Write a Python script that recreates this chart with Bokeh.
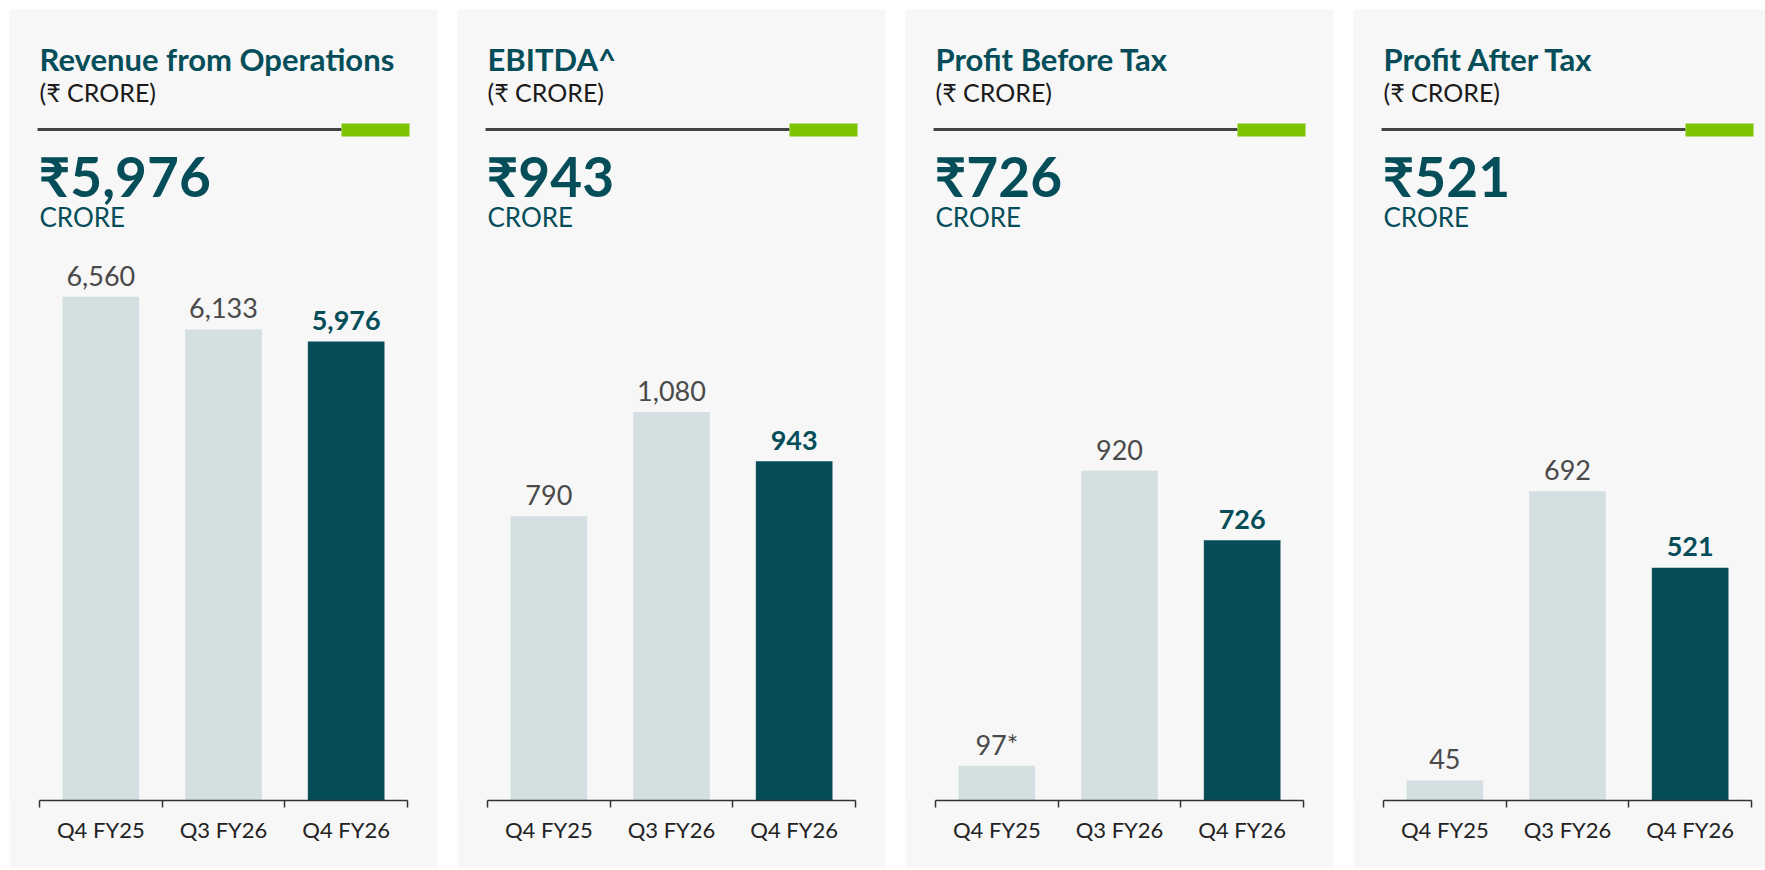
from bokeh.plotting import figure
from bokeh.layouts import row
from bokeh.models import Range1d, FixedTicker, Label
from bokeh.core.properties import value
from bokeh.embed import file_html
from bokeh.resources import INLINE

# ---------------- data ----------------
categories = ["Q4 FY25", "Q3 FY26", "Q4 FY26"]
titles = ["Revenue from Operations", "EBITDA^", "Profit Before Tax", "Profit After Tax"]
unit_label = "(₹ CRORE)"
unit_word = "CRORE"
revenue = [6560, 6133, 5976]
ebitda = [790, 1080, 943]
pbt = [97, 920, 726]
pat = [45, 692, 521]
label_marks = [["", "", ""], ["", "", ""], ["*", "", ""], ["", "", ""]]
series = [revenue, ebitda, pbt, pat]

# ---------------- style / layout ----------------
y_tops = [10299, 2199, 2207, 1770]
TEAL = "#054e59"
LIGHT = "#d3dfe1"
BG = "#f7f7f7"
GREEN = "#7dc400"
FONT = "Lato"

H = 859
BASE = 791
UNIT = 368 / 3
LEFT = 30
widths = [428, 428, 428, 412]

figs = []
for i, (title, vals) in enumerate(zip(titles, series)):
    w = widths[i]
    p = figure(width=w, height=H,
               x_range=Range1d(-LEFT / UNIT, (w - LEFT) / UNIT),
               y_range=Range1d(0, y_tops[i]),
               output_backend="svg", toolbar_location=None,
               y_axis_location=None,
               min_border_left=0, min_border_right=0, min_border_top=0,
               min_border_bottom=H - BASE,
               background_fill_color=BG, border_fill_color=BG,
               outline_line_color=None)
    p.extra_x_ranges = {"px": Range1d(0, w)}
    p.extra_y_ranges = {"px": Range1d(BASE, 0)}
    p.grid.visible = False

    # header
    p.add_layout(Label(x=30, y=49, text=title, x_range_name="px", y_range_name="px",
                       text_font=FONT, text_font_style="bold", text_font_size="31px",
                       text_color=TEAL, text_baseline="alphabetic"))
    p.add_layout(Label(x=30, y=82, text=unit_label, x_range_name="px", y_range_name="px",
                       text_font=FONT, text_font_size="25px",
                       text_color="#1a1a1a", text_baseline="alphabetic"))
    p.segment(x0=[28], y0=[120], x1=[332], y1=[120], line_color="#444444", line_width=3,
              x_range_name="px", y_range_name="px")
    p.quad(left=[332], right=[400], top=[114], bottom=[127], fill_color=GREEN,
           line_color=None, x_range_name="px", y_range_name="px")
    p.add_layout(Label(x=29, y=166, text=f"₹{vals[-1]:,}", x_range_name="px", y_range_name="px",
                       text_font=FONT, text_font_style="bold", text_font_size="55px",
                       text_color=TEAL, text_baseline="alphabetic"))
    p.add_layout(Label(x=30, y=207, text=unit_word, x_range_name="px", y_range_name="px",
                       text_font=FONT, text_font_size="26px",
                       text_color=TEAL, text_baseline="alphabetic"))

    # bars
    xs = [k + 0.5 for k in range(len(categories))]
    colors = [LIGHT] * (len(vals) - 1) + [TEAL]
    p.vbar(x=xs, top=vals, bottom=0, width=0.625, fill_color=colors, line_color=None)

    texts = [f"{v:,}{m}" for v, m in zip(vals, label_marks[i])]
    p.text(x=xs[:-1], y=vals[:-1], text=texts[:-1], y_offset=-21,
           text_align="center", text_baseline="alphabetic",
           text_font=value(FONT), text_font_size="27px", text_color="#4a4a4a")
    p.text(x=xs[-1:], y=vals[-1:], text=texts[-1:], y_offset=-21,
           text_align="center", text_baseline="alphabetic",
           text_font=value(FONT), text_font_style="bold", text_font_size="27px",
           text_color=TEAL)

    # axis
    ax = p.xaxis[0]
    ax.ticker = FixedTicker(ticks=xs, minor_ticks=list(range(len(categories) + 1)))
    ax.major_label_overrides = {x: c for x, c in zip(xs, categories)}
    ax.bounds = (0, len(categories))
    ax.major_tick_out = 0
    ax.major_tick_in = 0
    ax.minor_tick_out = 7
    ax.minor_tick_in = 0
    ax.minor_tick_line_color = "#333333"
    ax.minor_tick_line_width = 1.5
    ax.axis_line_color = "#333333"
    ax.axis_line_width = 1.5
    ax.major_label_standoff = 8
    ax.major_label_text_font = FONT
    ax.major_label_text_font_size = "22px"
    ax.major_label_text_color = "#222222"
    figs.append(p)

layout = row(*figs, spacing=20, margin=(9, 0, 0, 9))
open("out.html", "w").write(file_html(layout, INLINE))
